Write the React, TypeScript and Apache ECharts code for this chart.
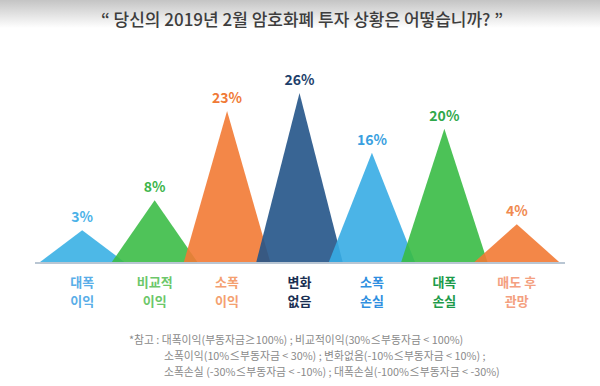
import React, { useEffect, useRef } from "react";
import * as echarts from "echarts";

const categories = ["대폭\n이익", "비교적\n이익", "소폭\n이익", "변화\n없음", "소폭\n손실", "대폭\n손실", "매도 후\n관망"];
const values = [3, 8, 23, 26, 16, 20, 4];
const fillColors = ["#3ab0e4", "#3cbc47", "#f27a34", "#245488", "#37ace4", "#38bb45", "#f27a34"];
const valueLabelColors = ["#4cb2e8", "#3cb54a", "#f07a36", "#1e3f6b", "#3a9fe0", "#2fa84a", "#f08a50"];
const categoryLabelColors = ["#5aaee8", "#6cc76a", "#f4a070", "#1a2f52", "#2f8fe0", "#1d9b4a", "#f4a080"];
const titleText = "“ 당신의 2019년 2월 암호화폐 투자 상황은 어떻습니까? ”";
const noteLines = [
  "*참고 : 대폭이익(부동자금≥100%) ; 비교적이익(30%≤부동자금 < 100%)",
  "소폭이익(10%≤부동자금 < 30%) ; 변화없음(-10%≤부동자금 < 10%) ;",
  "소폭손실 (-30%≤부동자금 < -10%) ; 대폭손실(-100%≤부동자금 < -30%)",
];

const FONT = '"Noto Sans CJK KR", "Noto Sans", sans-serif';
const Y_MIN = -2.5;

export default function App() {
  const ref = useRef<HTMLDivElement>(null);
  useEffect(() => {
    document.body.style.margin = "0";
    const chart = echarts.init(ref.current!, undefined, { renderer: "svg" });
    const rich: Record<string, any> = {};
    categoryLabelColors.forEach((c, i) => {
      rich["c" + i] = { color: c, fontSize: 13, fontWeight: "bold", fontFamily: FONT, lineHeight: 19, align: "center" };
    });
    const noteText = noteLines.map((l, i) => (i === 0 ? `{t|${l}}` : `{i| }{t|${l}}`)).join("\n");
    chart.setOption({
      animation: false,
      backgroundColor: "#ffffff",
      grid: { left: 46, right: 47, top: 93, bottom: 123 },
      xAxis: {
        type: "category",
        data: categories,
        axisLine: { show: false },
        axisTick: { show: false },
        axisLabel: {
          margin: 9,
          interval: 0,
          formatter: (v: string, i: number) => v.split("\n").map((l) => `{c${i}|${l}}`).join("\n"),
          rich,
        },
      },
      yAxis: { type: "value", min: Y_MIN, max: 26, show: false, splitLine: { show: false } },
      graphic: [
        {
          type: "rect",
          shape: { x: 0, y: 0, width: 600, height: 28 },
          style: {
            fill: new echarts.graphic.LinearGradient(0, 0, 0, 1, [
              { offset: 0, color: "#c4c4c4" },
              { offset: 1, color: "#ffffff" },
            ]),
          },
          z: -1,
        },
        {
          type: "text",
          x: 302,
          y: 18,
          style: { text: titleText, fontSize: 17, fontWeight: 500, fontFamily: FONT, fill: "#3d3d3d", align: "center", verticalAlign: "middle" },
        },
        {
          type: "line",
          shape: { x1: 35, y1: 263, x2: 565, y2: 263 },
          style: { stroke: "#b9c6d3", lineWidth: 2 },
          z: 10,
        },
        {
          type: "text",
          x: 129,
          y: 331,
          style: {
            text: noteText,
            rich: {
              t: { fontSize: 10.8, fontFamily: FONT, lineHeight: 15.8, fill: "#8a8a8a" },
              i: { width: 35, fontSize: 10.8, lineHeight: 15.8 },
            },
          },
        },
      ],
      series: [
        {
          type: "custom",
          data: values.map((v, i) => [i, v]),
          renderItem: (params: any, api: any) => {
            const i = api.value(0);
            const v = api.value(1);
            const peak = api.coord([i, v]);
            const base = api.coord([i, Y_MIN]);
            const half = api.size([1, 0])[0] * 0.6;
            return {
              type: "group",
              children: [
                {
                  type: "polygon",
                  shape: { points: [[base[0] - half, base[1]], [peak[0], peak[1]], [base[0] + half, base[1]]] },
                  style: { fill: fillColors[params.dataIndex], opacity: 0.9 },
                },
                {
                  type: "text",
                  x: peak[0],
                  y: peak[1] - 7,
                  style: {
                    text: v + "%",
                    fontSize: 14,
                    fontWeight: "bold",
                    fontFamily: FONT,
                    fill: valueLabelColors[params.dataIndex],
                    align: "center",
                    verticalAlign: "bottom",
                  },
                },
              ],
            };
          },
        },
      ],
    });
    return () => chart.dispose();
  }, []);
  return <div ref={ref} style={{ width: 600, height: 386 }} />;
}
